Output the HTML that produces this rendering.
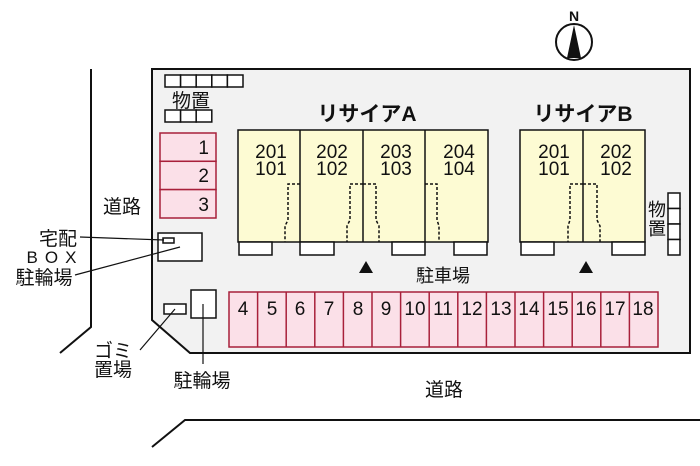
<!DOCTYPE html>
<html><head><meta charset="utf-8"><style>
html,body{margin:0;padding:0;background:#fff;}
svg{display:block;}
text{font-family:"Liberation Sans","Noto Sans CJK JP",sans-serif;fill:#111;}
</style></head><body>
<svg width="700" height="466" viewBox="0 0 700 466" xmlns="http://www.w3.org/2000/svg">
<!-- roads -->
<polyline points="91,69 91,327 60,353" fill="none" stroke="#111" stroke-width="2"/>
<polyline points="700,420 185,420 152,447" fill="none" stroke="#111" stroke-width="2"/>
<!-- site -->
<polygon points="152,69 690,69 690,353 190,353 152,320" fill="#f2f2f2" stroke="#111" stroke-width="2"/>
<!-- compass -->
<circle cx="574" cy="42" r="18" fill="#fff" stroke="#111" stroke-width="2"/>
<polygon points="574,25 567,58 581,58" fill="#111"/>
<text x="574" y="21" font-size="14" font-weight="bold" text-anchor="middle">N</text>
<!-- storage -->
<g fill="#fff" stroke="#111" stroke-width="1.5">
<rect x="165" y="75" width="15.6" height="12"/><rect x="180.6" y="75" width="15.6" height="12"/><rect x="196.2" y="75" width="15.6" height="12"/><rect x="211.8" y="75" width="15.6" height="12"/><rect x="227.4" y="75" width="15.6" height="12"/>
<rect x="165" y="110" width="15.6" height="12"/><rect x="180.6" y="110" width="15.6" height="12"/><rect x="196.2" y="110" width="15.6" height="12"/>
<rect x="668" y="193" width="12" height="15.5"/><rect x="668" y="208.5" width="12" height="15.5"/><rect x="668" y="224" width="12" height="15.5"/><rect x="668" y="239.5" width="12" height="15.5"/>
</g>
<text x="191" y="107" font-size="19" text-anchor="middle">物置</text>
<text x="657" y="216" font-size="18" text-anchor="middle">物</text>
<text x="657" y="235" font-size="18" text-anchor="middle">置</text>
<!-- parking 1-3 -->
<g fill="#fbe0e8" stroke="#a8203a" stroke-width="1.5">
<rect x="160" y="133" width="56" height="28.3"/><rect x="160" y="161.3" width="56" height="28.3"/><rect x="160" y="189.6" width="56" height="28.4"/>
</g>
<g font-size="19" text-anchor="end"><text x="209" y="154">1</text><text x="209" y="182">2</text><text x="209" y="211">3</text></g>
<!-- buildings -->
<text x="367" y="121" font-size="21" font-weight="bold" text-anchor="middle">リサイアA</text>
<text x="583" y="121" font-size="21" font-weight="bold" text-anchor="middle">リサイアB</text>
<rect x="238" y="130" width="250" height="112" fill="#fdfbd3" stroke="#111" stroke-width="1.5"/>
<rect x="520" y="130" width="125" height="112" fill="#fdfbd3" stroke="#111" stroke-width="1.5"/>
<g stroke="#111" stroke-width="1.5"><line x1="300" y1="130" x2="300" y2="242"/><line x1="363" y1="130" x2="363" y2="242"/><line x1="425" y1="130" x2="425" y2="242"/>
<line x1="583" y1="130" x2="583" y2="242"/></g>
<g fill="#fff" stroke="#111" stroke-width="1.5">
<rect x="239" y="242" width="33" height="13"/><rect x="300" y="242" width="34" height="13"/><rect x="392" y="242" width="33" height="13"/><rect x="454" y="242" width="33" height="13"/>
<rect x="521" y="242" width="33" height="13"/><rect x="612" y="242" width="33" height="13"/>
</g>
<g fill="none" stroke="#111" stroke-width="1.5" stroke-dasharray="3,2">
<polyline points="300,184 288,184 288,220 285,226 285,242"/>
<polyline points="363,184 350,184 350,220 347,226 347,242"/>
<polyline points="363,184 376,184 376,220 379,226 379,242"/>
<polyline points="425,184 437,184 437,220 439,226 439,242"/>
<polyline points="583,184 570,184 570,220 568,226 568,242"/>
<polyline points="583,184 597,184 597,220 600,226 600,242"/>
</g>
<g font-size="19" text-anchor="middle">
<text x="271" y="158">201</text><text x="271" y="175">101</text>
<text x="332" y="158">202</text><text x="332" y="175">102</text>
<text x="396" y="158">203</text><text x="396" y="175">103</text>
<text x="459" y="158">204</text><text x="459" y="175">104</text>
<text x="554" y="158">201</text><text x="554" y="175">101</text>
<text x="616" y="158">202</text><text x="616" y="175">102</text>
</g>
<!-- triangles -->
<polygon points="366,261 359,273 373,273" fill="#111"/>
<polygon points="586,261 579,273 593,273" fill="#111"/>
<text x="443" y="282" font-size="18" text-anchor="middle">駐車場</text>
<!-- parking 4-18 -->
<rect x="229" y="292" width="429" height="55" fill="#fbe0e8" stroke="#a8203a" stroke-width="1.5"/>
<g stroke="#a8203a" stroke-width="1.5">
<line x1="257.6" y1="292" x2="257.6" y2="347"/><line x1="286.2" y1="292" x2="286.2" y2="347"/><line x1="314.8" y1="292" x2="314.8" y2="347"/><line x1="343.4" y1="292" x2="343.4" y2="347"/><line x1="372" y1="292" x2="372" y2="347"/><line x1="400.6" y1="292" x2="400.6" y2="347"/><line x1="429.2" y1="292" x2="429.2" y2="347"/><line x1="457.8" y1="292" x2="457.8" y2="347"/><line x1="486.4" y1="292" x2="486.4" y2="347"/><line x1="515" y1="292" x2="515" y2="347"/><line x1="543.6" y1="292" x2="543.6" y2="347"/><line x1="572.2" y1="292" x2="572.2" y2="347"/><line x1="600.8" y1="292" x2="600.8" y2="347"/><line x1="629.4" y1="292" x2="629.4" y2="347"/>
</g>
<g font-size="19" text-anchor="middle">
<text x="243" y="315">4</text><text x="272" y="315">5</text><text x="300" y="315">6</text><text x="329" y="315">7</text><text x="358" y="315">8</text><text x="386" y="315">9</text><text x="415" y="315">10</text><text x="443" y="315">11</text><text x="472" y="315">12</text><text x="501" y="315">13</text><text x="529" y="315">14</text><text x="558" y="315">15</text><text x="586" y="315">16</text><text x="615" y="315">17</text><text x="643" y="315">18</text>
</g>
<!-- small boxes -->
<g fill="#fff" stroke="#111" stroke-width="1.5">
<rect x="158" y="233" width="44" height="28"/><rect x="163" y="238" width="11" height="5"/>
<rect x="164" y="304" width="22" height="10"/><rect x="191" y="290" width="25" height="28"/>
</g>
<g stroke="#111" stroke-width="1.2">
<line x1="80" y1="237" x2="164" y2="240"/>
<line x1="75" y1="275" x2="180" y2="247"/>
<line x1="140" y1="350" x2="175" y2="309"/>
<line x1="203" y1="304" x2="203" y2="364"/>
</g>
<text x="103" y="213" font-size="19">道路</text>
<text x="58" y="245" font-size="19" text-anchor="middle">宅配</text>
<text x="55" y="263" font-size="17" text-anchor="middle" letter-spacing="7">BOX</text>
<text x="44" y="284" font-size="19" text-anchor="middle">駐輪場</text>
<text x="113" y="357" font-size="19" text-anchor="middle">ゴミ</text>
<text x="113" y="376" font-size="19" text-anchor="middle">置場</text>
<text x="202" y="387" font-size="19" text-anchor="middle">駐輪場</text>
<text x="444" y="396" font-size="19" text-anchor="middle">道路</text>
</svg>
</body></html>
